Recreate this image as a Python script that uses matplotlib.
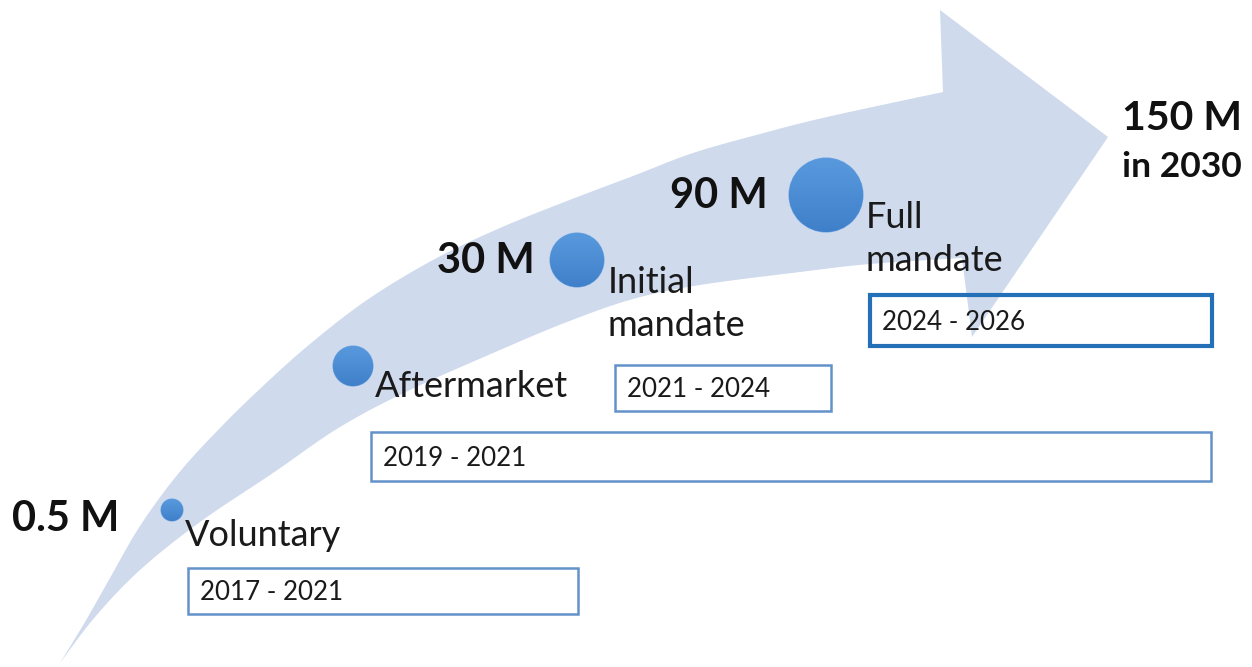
import numpy as np
import matplotlib
matplotlib.use('Agg')
import matplotlib.pyplot as plt
from matplotlib.patches import Polygon, Circle, Rectangle
from matplotlib.colors import LinearSegmentedColormap

# chart content
stages = ['Voluntary', 'Aftermarket', 'Initial\nmandate', 'Full\nmandate']
volumes = ['0.5 M', '', '30 M', '90 M']
periods = ['2017 - 2021', '2019 - 2021', '2021 - 2024', '2024 - 2026']
target = '150 M'
target_year = 'in 2030'

# layout (pixels, y down)
dot_xy = [(172, 510), (353, 366), (577, 260), (826, 195)]
dot_r = [11, 20, 27, 37]
vol_xy = [(12, 531), None, (437, 273), (670, 208)]
stage_xy = [(185, 546), (375, 397), (608, 293), (866, 228)]
box_rect = [(188, 568, 390, 46), (371, 432, 840, 49), (615, 365, 216, 46), (870, 295, 342, 51)]
box_lw = [1.8, 1.8, 1.8, 3.0]
box_col = ['#6392c9', '#6392c9', '#6392c9', '#2370b8']

upper = [(60, 663), (85, 622), (110, 578), (140, 526), (178, 474), (220, 428), (263, 386),
         (310, 344), (367, 300), (433, 260), (500, 228), (567, 201), (633, 176), (693, 153),
         (760, 134), (827, 117), (943, 92)]
lower = [(60, 663), (95, 617), (140, 570), (200, 522), (273, 473), (340, 427), (410, 390),
         (500, 350), (567, 322), (633, 299), (700, 285), (800, 272), (870, 264), (962, 258)]
head = [(940, 10), (1108, 137), (972, 337)]

plt.rcParams['font.family'] = ['Lato', 'DejaVu Sans']


def smooth(pts, n=30):
    pts = np.asarray(pts, float)
    p = np.vstack([pts[0], pts, pts[-1]])
    out = []
    t = np.linspace(0, 1, n, endpoint=False)[:, None]
    for i in range(1, len(p) - 2):
        p0, p1, p2, p3 = p[i - 1], p[i], p[i + 1], p[i + 2]
        out.append(0.5 * (2 * p1 + (-p0 + p2) * t + (2 * p0 - 5 * p1 + 4 * p2 - p3) * t ** 2
                          + (-p0 + 3 * p1 - 3 * p2 + p3) * t ** 3))
    out.append(p[-2][None])
    return np.vstack(out)


fig = plt.figure(figsize=(12.52, 6.67), dpi=100)
ax = fig.add_axes([0, 0, 1, 1])
ax.axis('off')

outline = np.vstack([smooth(upper), np.array(head), smooth(lower)[::-1]])
ax.add_patch(Polygon(outline, closed=True, facecolor='#cfdaed', edgecolor='none', zorder=1))

dot_cmap = LinearSegmentedColormap.from_list('dot', ['#5899de', '#4080ca'])
grad = np.linspace(0, 1, 64)[:, None]
for (x, y), r in zip(dot_xy, dot_r):
    c = Circle((x, y), r, facecolor='#4b8cd4', edgecolor='#74a9e2', lw=0.8, zorder=3)
    ax.add_patch(c)
    im = ax.imshow(grad, cmap=dot_cmap, extent=(x - r, x + r, y + r, y - r), origin='upper',
                   aspect='auto', zorder=3.1)
    im.set_clip_path(c)

for v, pos in zip(volumes, vol_xy):
    if pos:
        ax.text(pos[0], pos[1], v, fontsize=30, fontweight='bold', color='#111111',
                ha='left', va='baseline', zorder=4)

for s, (x, y) in zip(stages, stage_xy):
    for k, line in enumerate(s.split('\n')):
        ax.text(x, y + k * 43, line, fontsize=26, color='#1a1a1a', ha='left', va='baseline', zorder=4)

for p, (x, y, w, h), lw, c in zip(periods, box_rect, box_lw, box_col):
    ax.add_patch(Rectangle((x, y), w, h, facecolor='none', edgecolor=c, lw=lw, zorder=2))
    ax.text(x + 12, y + h / 2 + 9, p, fontsize=18.7, color='#1a1a1a', ha='left', va='baseline', zorder=4)

ax.text(1122, 130, target, fontsize=29.5, fontweight='bold', color='#111111', ha='left', va='baseline')
ax.text(1122, 177, target_year, fontsize=25.5, fontweight='bold', color='#111111', ha='left', va='baseline')

ax.set_xlim(0, 1252)
ax.set_ylim(667, 0)
plt.savefig('out.png', dpi=100)
